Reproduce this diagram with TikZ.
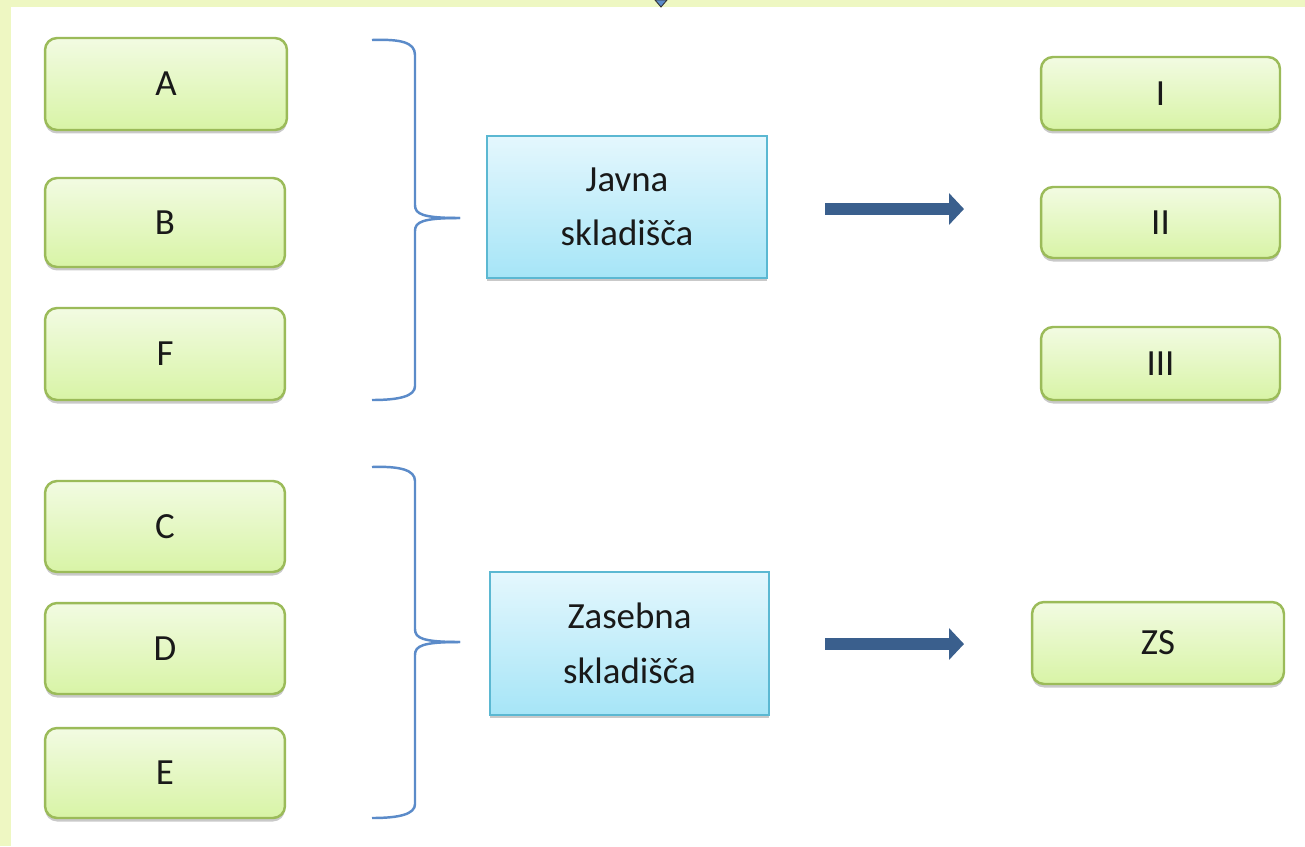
\documentclass[tikz,border=0pt]{standalone}
\usepackage{fontspec}
\setmainfont{Carlito}
\usetikzlibrary{shadows,arrows.meta}
\definecolor{frameyel}{HTML}{EEF7C2}
\definecolor{gtop}{HTML}{F2FBE2}
\definecolor{gbot}{HTML}{D8F4A6}
\definecolor{gborder}{HTML}{9BBB59}
\definecolor{btop}{HTML}{E4F7FD}
\definecolor{bbot}{HTML}{A6E5F7}
\definecolor{bborder}{HTML}{5BB8D2}
\definecolor{arrowblue}{HTML}{3A5F8D}
\definecolor{braceblue}{HTML}{5B8BC9}
\tikzset{
  lbl/.style={font=\fontsize{21}{31}\selectfont, text=black!90, align=center},
  gbox/.style={lbl, draw=gborder, line width=1.4pt, rounded corners=0.24cm,
    top color=gtop, bottom color=gbot,
    drop shadow={shadow xshift=0cm, shadow yshift=-0.07cm, opacity=0.35, fill=black!60}},
  bbox/.style={lbl, draw=bborder, line width=1.2pt,
    top color=btop, bottom color=bbot,
    drop shadow={shadow xshift=0cm, shadow yshift=-0.07cm, opacity=0.35, fill=black!60}},
  bigarrow/.style={draw=arrowblue, line width=0.24cm, -{Triangle[length=0.3cm, width=0.62cm]}},
  bracestyle/.style={draw=braceblue, line width=1.4pt}
}
\begin{document}
\begin{tikzpicture}[x=0.02cm, y=-0.02cm]
  % frame
  \fill[frameyel] (0,0) rectangle (1305,846);
  \fill[white] (11,7) rectangle (1305,846);
  \useasboundingbox (0,0) rectangle (1305,846);
  \filldraw[fill=braceblue, draw=black!80, line width=0.5pt] (655,0) -- (667,0) -- (661,7) -- cycle;

  % left green boxes
  \node[gbox, minimum width=4.84cm, minimum height=1.84cm] (A) at (166,84) {A};
  \node[gbox, minimum width=4.80cm, minimum height=1.78cm] (B) at (165,222.5) {B};
  \node[gbox, minimum width=4.80cm, minimum height=1.84cm] (F) at (165,354) {F};
  \node[gbox, minimum width=4.80cm, minimum height=1.82cm] (C) at (165,526.5) {C};
  \node[gbox, minimum width=4.80cm, minimum height=1.82cm] (D) at (165,648.5) {D};
  \node[gbox, minimum width=4.80cm, minimum height=1.80cm] (E) at (165,773) {E};

  % right green boxes
  \node[gbox, minimum width=4.78cm, minimum height=1.46cm] (I) at (1160.5,93.5) {I};
  \node[gbox, minimum width=4.78cm, minimum height=1.42cm] (II) at (1160.5,222.5) {II};
  \node[gbox, minimum width=4.78cm, minimum height=1.46cm] (III) at (1160.5,363.5) {III};
  \node[gbox, minimum width=5.04cm, minimum height=1.64cm] (ZS) at (1158,643) {ZS};

  % blue boxes
  \node[bbox, minimum width=5.6cm, minimum height=2.84cm] (J) at (627,207) {Javna\\skladišča};
  \node[bbox, minimum width=5.58cm, minimum height=2.86cm] (Z) at (629.5,643.5) {Zasebna\\skladišča};

  % braces
  \coordinate (b1top) at (372,40);
  \coordinate (b1tip) at (460,218);
  \coordinate (b1bot) at (372,400);
  \draw[bracestyle] (b1top) .. controls (400,39) and (415,42) .. (415,55)
    -- (415,205) .. controls (415,214) and (422,218) .. (b1tip);
  \draw[bracestyle] (b1tip) .. controls (422,218) and (415,222) .. (415,231)
    -- (415,386) .. controls (415,396) and (400,400) .. (b1bot);
  \coordinate (b2top) at (372,467);
  \coordinate (b2tip) at (460,642);
  \coordinate (b2bot) at (372,818);
  \draw[bracestyle] (b2top) .. controls (400,466) and (415,470) .. (415,481)
    -- (415,629) .. controls (415,638) and (422,642) .. (b2tip);
  \draw[bracestyle] (b2tip) .. controls (422,642) and (415,646) .. (415,655)
    -- (415,804) .. controls (415,814) and (400,818) .. (b2bot);

  % arrows
  \coordinate (a1s) at (825,209);
  \coordinate (a1e) at (964,209);
  \coordinate (a2s) at (825,644);
  \coordinate (a2e) at (964,644);
  \draw[bigarrow] (a1s) -- (a1e);
  \draw[bigarrow] (a2s) -- (a2e);
\end{tikzpicture}
\end{document}
